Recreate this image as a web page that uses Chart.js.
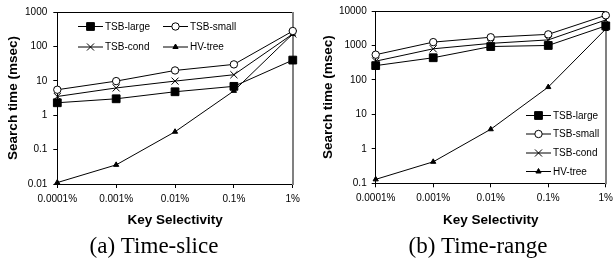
<!DOCTYPE html>
<html>
<head>
<meta charset="utf-8">
<script src="https://cdn.jsdelivr.net/npm/chart.js@4.4.1/dist/chart.umd.min.js"></script>
<style>
    html, body { margin: 0; padding: 0; background: #fff; }
    body { width: 613px; height: 261px; position: relative; overflow: hidden; }
    .panel { position: absolute; top: 0; height: 261px; }
    #panelA { left: 0; width: 305px; }
    #panelB { left: 305px; width: 313px; }
</style>
</head>
<body>
<div class="panel" id="panelA"><canvas id="chartA"></canvas></div>
<div class="panel" id="panelB"><canvas id="chartB"></canvas></div>
<script>
const selectivity = ['0.0001%', '0.001%', '0.01%', '0.1%', '1%'];
const seriesNames = ['TSB-large', 'TSB-small', 'TSB-cond', 'HV-tree'];

// (a) time-slice, search time in msec
const sliceLarge = [2.3, 3.0, 4.8, 6.9, 40];
const sliceSmall = [5.5, 9.8, 20, 30, 280];
const sliceCond = [3.5, 6.2, 9.8, 15, 230];
const sliceHV = [0.011, 0.036, 0.33, 5.1, 230];
const sliceTicks = [0.01, 0.1, 1, 10, 100, 1000];

// (b) time-range, search time in msec
const rangeLarge = [260, 440, 930, 1000, 3700];
const rangeSmall = [540, 1250, 1730, 2100, 7500];
const rangeCond = [350, 800, 1150, 1450, 5500];
const rangeHV = [0.13, 0.42, 3.7, 62, 3000];
const rangeTicks = [0.1, 1, 10, 100, 1000, 10000];

const sans = '"Liberation Sans", Arial, sans-serif';
const serif = '"Liberation Serif", "Times New Roman", serif';

const markers = [
    { pointStyle: 'rect', radius: 5.5, fill: '#000' },
    { pointStyle: 'circle', radius: 3.7, fill: '#fff' },
    { pointStyle: 'crossRot', radius: 5, fill: '#000' },
    { pointStyle: 'triangle', radius: 3, fill: '#000' }
];

// legend drawn inside the plot, line + marker sample like the original
const insideLegend = {
    id: 'insideLegend',
    afterDatasetsDraw(chart, args, opts) {
        const ctx = chart.ctx;
        ctx.save();
        ctx.font = '10px ' + sans;
        ctx.textBaseline = 'middle';
        chart.data.datasets.forEach((ds, i) => {
            const [x, y] = opts.spots[i];
            ctx.strokeStyle = '#000';
            ctx.lineWidth = 1;
            ctx.beginPath();
            ctx.moveTo(x, y + 0.5);
            ctx.lineTo(x + 25, y + 0.5);
            ctx.stroke();
            ctx.fillStyle = ds.pointBackgroundColor;
            Chart.helpers.drawPoint(ctx, {
                pointStyle: ds.pointStyle, radius: ds.pointRadius, borderWidth: 1, rotation: 0
            }, x + 12.5, y + 0.5);
            ctx.fillStyle = '#000';
            ctx.fillText(ds.label, x + 27, y + 1);
        });
        ctx.restore();
    }
};

// top border black, right border grey (left/bottom come from the axes)
const plotBorder = {
    id: 'plotBorder',
    beforeDatasetsDraw(chart) {
        const { ctx, chartArea: a } = chart;
        ctx.save();
        ctx.strokeStyle = '#000';
        ctx.lineWidth = 1;
        ctx.beginPath();
        ctx.moveTo(a.left, Math.round(a.top) + 0.5);
        ctx.lineTo(a.right, Math.round(a.top) + 0.5);
        ctx.stroke();
        ctx.strokeStyle = '#808080';
        ctx.lineWidth = 2;
        ctx.beginPath();
        ctx.moveTo(Math.round(a.right), a.top);
        ctx.lineTo(Math.round(a.right), a.bottom + 1);
        ctx.stroke();
        ctx.restore();
    }
};

const caption = {
    id: 'caption',
    afterDraw(chart, args, opts) {
        const ctx = chart.ctx;
        ctx.save();
        ctx.font = '23px ' + serif;
        ctx.fillStyle = '#000';
        ctx.textAlign = 'center';
        ctx.textBaseline = 'middle';
        ctx.fillText(opts.text, opts.x, opts.y);
        ctx.restore();
    }
};

function makeChart(canvasId, series, yTicks, cfg) {
    const datasets = series.map((values, i) => ({
        label: seriesNames[i],
        data: values,
        borderColor: '#000',
        borderWidth: 1,
        tension: 0,
        pointStyle: markers[i].pointStyle,
        pointRadius: markers[i].radius,
        pointHoverRadius: markers[i].radius,
        pointBackgroundColor: markers[i].fill,
        pointBorderColor: '#000',
        pointBorderWidth: 1,
        clip: false
    }));

    return new Chart(document.getElementById(canvasId), {
        type: 'line',
        data: { labels: selectivity, datasets: datasets },
        options: {
            responsive: true,
            maintainAspectRatio: false,
            animation: false,
            events: [],
            layout: { padding: cfg.padding },
            plugins: {
                legend: { display: false },
                tooltip: { enabled: false },
                insideLegend: { spots: cfg.legendSpots },
                caption: cfg.caption
            },
            scales: {
                x: {
                    type: 'category',
                    offset: false,
                    grid: { drawOnChartArea: false, drawTicks: true, tickLength: 4, color: '#000', offset: false },
                    border: { color: '#000', width: 1 },
                    ticks: { color: '#000', font: { size: 10, family: sans }, padding: 5, maxRotation: 0, autoSkip: false },
                    title: {
                        display: true, text: 'Key Selectivity', color: '#000',
                        font: { size: 13.5, weight: 'bold', family: sans },
                        padding: { top: 0, bottom: 4.3 }
                    },
                    afterFit: s => { s.height = cfg.xHeight; }
                },
                y: {
                    type: 'logarithmic',
                    min: yTicks[0],
                    max: yTicks[yTicks.length - 1],
                    afterBuildTicks: s => { s.ticks = yTicks.map(v => ({ value: v })); },
                    grid: { drawOnChartArea: false, drawTicks: true, tickLength: 4, color: '#000' },
                    border: { color: '#000', width: 1 },
                    ticks: { color: '#000', font: { size: 10, family: sans }, padding: cfg.yPad, callback: v => String(v) },
                    title: {
                        display: true, text: 'Search time (msec)', color: '#000',
                        font: { size: 13.5, weight: 'bold', family: sans },
                        padding: { top: 5, bottom: 0 }
                    },
                    afterFit: s => { s.width = cfg.yWidth; }
                }
            }
        },
        plugins: [plotBorder, insideLegend, caption]
    });
}

makeChart('chartA', [sliceLarge, sliceSmall, sliceCond, sliceHV], sliceTicks, {
    padding: { left: 0, top: 9, right: 10, bottom: 28.6 },
    xHeight: 48.4,
    yWidth: 57.3,
    yPad: 6,
    legendSpots: [[78, 26], [163, 26], [78, 46.5], [163, 46.5]],
    caption: { text: '(a) Time-slice', x: 154, y: 246.5 }
});

makeChart('chartB', [rangeLarge, rangeSmall, rangeCond, rangeHV], rangeTicks, {
    padding: { left: 10, top: 8, right: 8.5, bottom: 28.6 },
    xHeight: 49.1,
    yWidth: 60.7,
    yPad: 5,
    legendSpots: [[221, 115], [221, 133.5], [221, 152.5], [221, 171]],
    caption: { text: '(b) Time-range', x: 173, y: 246.5 }
});
</script>
</body>
</html>
